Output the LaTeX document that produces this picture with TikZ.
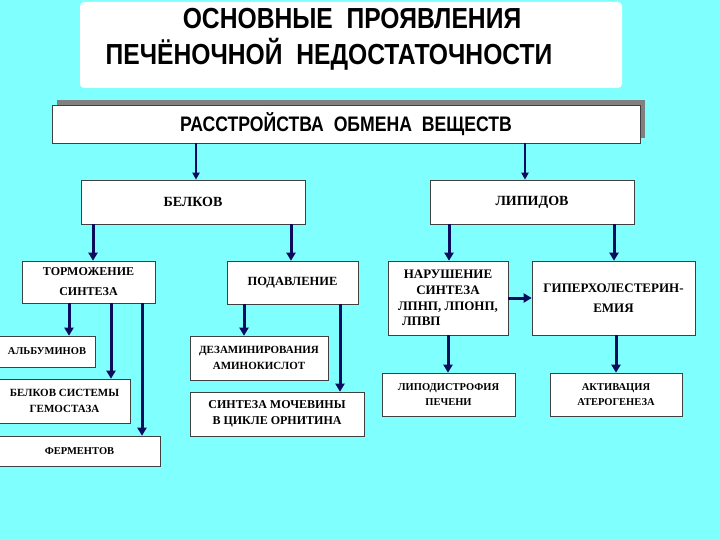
\documentclass[tikz,border=0pt]{standalone}
\usepackage{fontspec}
\newfontfamily\narrowsans[FakeStretch=0.85]{Liberation Sans}
\newfontfamily\narrowsansb[FakeStretch=0.84]{Liberation Sans}
\newfontfamily\boxserif{Liberation Serif}
\usetikzlibrary{arrows.meta,shadows}
\definecolor{bgcyan}{RGB}{128,255,255}
\definecolor{navy}{RGB}{12,12,95}
\begin{document}
\begin{tikzpicture}[x=1pt,y=-1pt,
  box/.style={draw=black!75, line width=0.6pt, fill=white, inner sep=0pt, align=center,
    font=\boxserif\bfseries\fontsize{12}{15.5}\selectfont},
  boxsmall/.style={box, font=\boxserif\bfseries\fontsize{10.5}{15.5}\selectfont},
  titlefont/.style={font=\narrowsans\bfseries\fontsize{29}{34}\selectfont, inner sep=0pt, anchor=base},
  arr/.style={draw=navy, line width=3pt, -{Triangle[length=8pt,width=9pt]}},
  arrthin/.style={draw=navy, line width=1.8pt, -{Triangle[length=7pt,width=7pt]}}]
\fill[bgcyan] (0,0) rectangle (720,540);
\useasboundingbox (0,0) rectangle (720,540);

% title
\node[fill=white, rounded corners=4pt, minimum width=542pt, minimum height=86pt, inner sep=0pt] (title) at (351,45) {};
\node[titlefont] (t1) at (352,28.5) {ОСНОВНЫЕ\ \ ПРОЯВЛЕНИЯ};
\node[titlefont] (t2) at (329,65) {ПЕЧЁНОЧНОЙ\ \ НЕДОСТАТОЧНОСТИ};

% main box
\node[box, minimum width=588pt, minimum height=38pt,
  general shadow={fill=gray, shadow xshift=5pt, shadow yshift=5pt},
  font=\narrowsansb\bfseries\fontsize{21}{24}\selectfont] (ras) at (346,124) {РАССТРОЙСТВА\ \ ОБМЕНА\ \ ВЕЩЕСТВ};

% level 2
\node[box, minimum width=224pt, minimum height=44pt, font=\boxserif\bfseries\fontsize{14}{16}\selectfont] (bel) at (193,202) {БЕЛКОВ};
\node[box, minimum width=204pt, minimum height=44pt, font=\boxserif\bfseries\fontsize{14}{16}\selectfont] (lip) at (532,202) {ЛИПИДОВ};

% level 3
\node[box, minimum width=133pt, minimum height=42pt, font=\boxserif\bfseries\fontsize{12}{20}\selectfont] (tor) at (88.5,282) {ТОРМОЖЕНИЕ\\СИНТЕЗА};
\node[box, minimum width=131pt, minimum height=43pt, font=\boxserif\bfseries\fontsize{12.5}{15}\selectfont] (pod) at (292.5,282.5) {ПОДАВЛЕНИЕ};
\node[box, minimum width=120pt, minimum height=74pt, font=\boxserif\bfseries\fontsize{13}{15.7}\selectfont] (nar) at (448,298) {НАРУШЕНИЕ\\СИНТЕЗА\\ЛПНП, ЛПОНП,\\\makebox[92pt][l]{ЛПВП}};
\node[box, minimum width=163pt, minimum height=74pt, font=\boxserif\bfseries\fontsize{13}{20}\selectfont] (gip) at (613.5,298) {ГИПЕРХОЛЕСТЕРИН-\\ЕМИЯ};

% level 4
\node[boxsmall, minimum width=96pt, minimum height=31pt] (alb) at (47,351.5) {АЛЬБУМИНОВ};
\node[boxsmall, minimum width=131pt, minimum height=44pt, font=\boxserif\bfseries\fontsize{11}{15.5}\selectfont] (gem) at (64.5,401) {БЕЛКОВ СИСТЕМЫ\\ГЕМОСТАЗА};
\node[boxsmall, minimum width=161pt, minimum height=30pt] (fer) at (79.5,451) {ФЕРМЕНТОВ};
\node[boxsmall, minimum width=138pt, minimum height=44pt, font=\boxserif\bfseries\fontsize{11}{16}\selectfont] (dez) at (259,358) {ДЕЗАМИНИРОВАНИЯ\\АМИНОКИСЛОТ};
\node[boxsmall, minimum width=174pt, minimum height=44pt, font=\boxserif\bfseries\fontsize{12}{15.5}\selectfont] (moch) at (277,414) {СИНТЕЗА МОЧЕВИНЫ\\В ЦИКЛЕ ОРНИТИНА};
\node[boxsmall, minimum width=133pt, minimum height=43pt] (lipo) at (448.5,394.5) {ЛИПОДИСТРОФИЯ\\ПЕЧЕНИ};
\node[boxsmall, minimum width=132pt, minimum height=43pt] (akt) at (616,394.5) {АКТИВАЦИЯ\\АТЕРОГЕНЕЗА};

% arrow columns
\coordinate (c196) at (196,0);
\coordinate (c525) at (525,0);
\coordinate (c93) at (93,0);
\coordinate (c291) at (291,0);
\coordinate (c449) at (449,0);
\coordinate (c614) at (614,0);
\coordinate (c69) at (69,0);
\coordinate (c111) at (111,0);
\coordinate (c142) at (142,0);
\coordinate (c244) at (244,0);
\coordinate (c340) at (340,0);
\coordinate (c448) at (448,0);
\coordinate (c616) at (616,0);

\draw[arrthin] (ras.south -| c196) -- (bel.north -| c196);
\draw[arrthin] (ras.south -| c525) -- (lip.north -| c525);
\draw[arr] (bel.south -| c93) -- (tor.north -| c93);
\draw[arr] (bel.south -| c291) -- (pod.north -| c291);
\draw[arr] (lip.south -| c449) -- (nar.north -| c449);
\draw[arr] (lip.south -| c614) -- (gip.north -| c614);
\draw[arr] (tor.south -| c69) -- (alb.north -| c69);
\draw[arr] (tor.south -| c111) -- (gem.north -| c111);
\draw[arr] (tor.south -| c142) -- (fer.north -| c142);
\draw[arr] (pod.south -| c244) -- (dez.north -| c244);
\draw[arr] (pod.south -| c340) -- (moch.north -| c340);
\draw[arr] (nar.south -| c448) -- (lipo.north -| c448);
\draw[arr] (gip.south -| c616) -- (akt.north -| c616);
\draw[arr] (nar.east) -- (gip.west);
\end{tikzpicture}
\end{document}
